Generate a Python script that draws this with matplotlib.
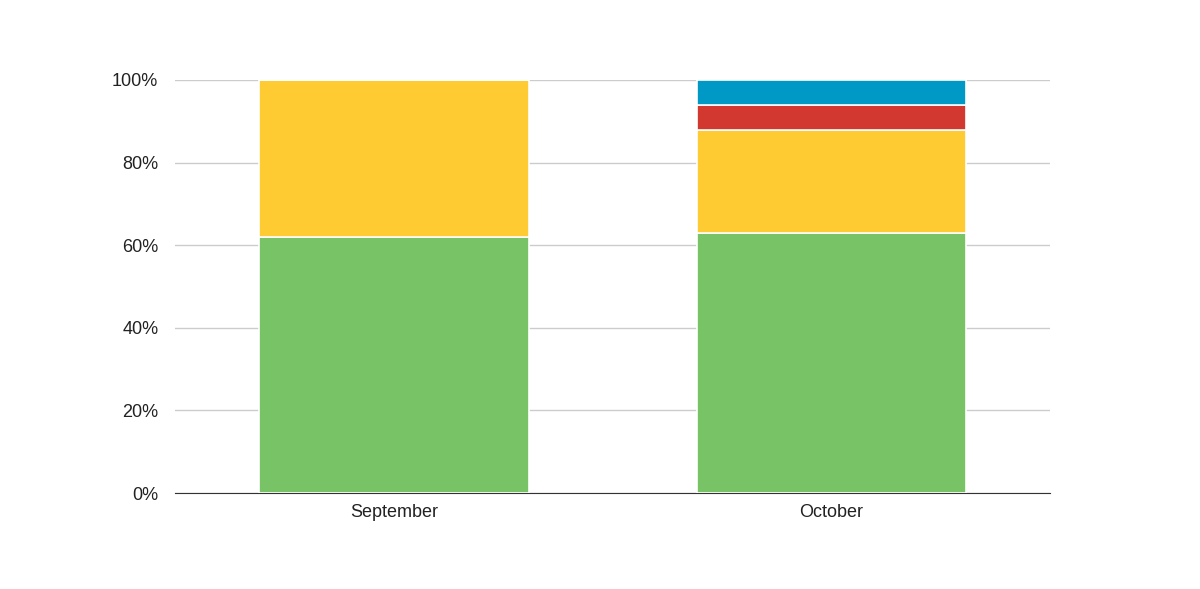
import matplotlib.pyplot as plt
from matplotlib.ticker import PercentFormatter

months = ["September", "October"]
green = [62, 63]
yellow = [38, 25]
red = [0, 6]
blue = [0, 6]

plt.rcParams['font.family'] = ['Liberation Sans', 'DejaVu Sans']
fig = plt.figure(figsize=(12, 5.89), dpi=100)
ax = fig.add_axes([175 / 1200, 1 - 493 / 589, 875 / 1200, 413 / 589])

x = range(len(months))
bottom = [0, 0]
for vals, color in [(green, "#77c366"), (yellow, "#fecb32"), (red, "#d2382f"), (blue, "#0099c6")]:
    ax.bar(x, vals, width=0.616, bottom=bottom, color=color, edgecolor="white", linewidth=1.2, zorder=3)
    bottom = [b + v for b, v in zip(bottom, vals)]

ax.set_xlim(-0.5, 1.5)
ax.set_ylim(0, 100)
ax.set_yticks(range(0, 101, 20))
ax.yaxis.set_major_formatter(PercentFormatter(decimals=0))
ax.set_xticks(list(x))
ax.set_xticklabels(months)
ax.grid(axis="y", color="#cccccc", linewidth=1, zorder=0)
for s in ["top", "right", "left"]:
    ax.spines[s].set_visible(False)
ax.spines["bottom"].set_color("#333333")
ax.tick_params(length=0, labelsize=13, colors="#222222", pad=12)
ax.tick_params(axis="x", pad=8)

fig.savefig("out.png", dpi=100)
